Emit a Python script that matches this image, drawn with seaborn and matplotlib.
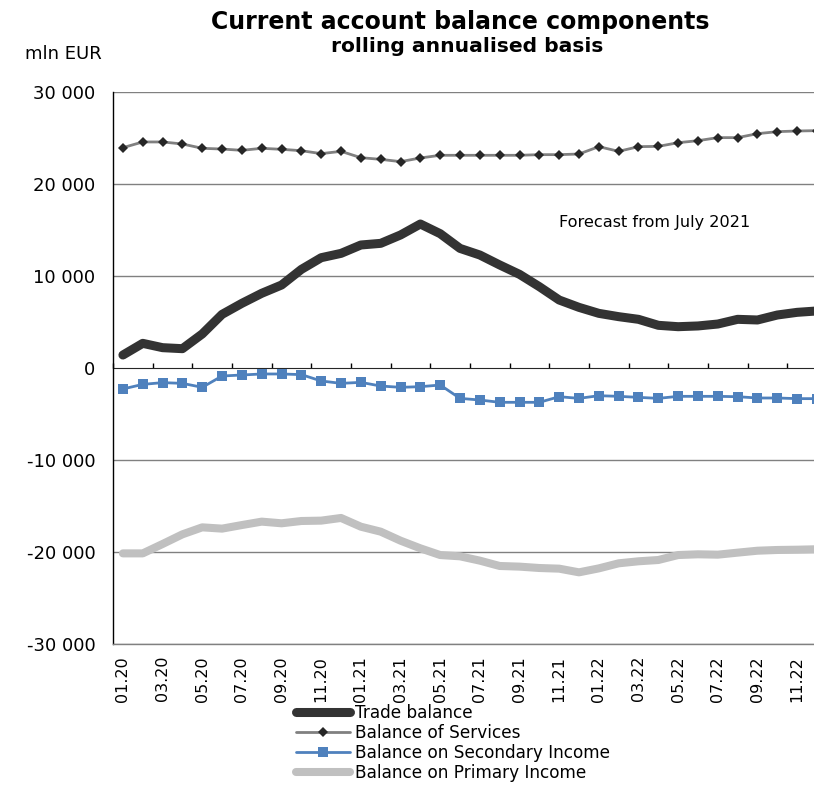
import numpy as np
import pandas as pd
import matplotlib
matplotlib.use("Agg")
import matplotlib.pyplot as plt
import seaborn as sns

months = [f"{m:02d}.{y}" for y in (20, 21, 22) for m in range(1, 13)]

trade_balance = [1410, 2680, 2210, 2100, 3700, 5830, 7030, 8120, 9020, 10720,
                 11990, 12460, 13370, 13550, 14460, 15650, 14600, 13000, 12280, 11200,
                 10180, 8840, 7390, 6590, 5940, 5580, 5290, 4640, 4490, 4570,
                 4780, 5290, 5220, 5760, 6050, 6200]
services = [23950, 24570, 24570, 24350, 23880, 23800, 23660, 23880, 23770, 23620,
            23300, 23550, 22860, 22680, 22430, 22830, 23120, 23120, 23120, 23120,
            23120, 23190, 23190, 23260, 24060, 23550, 24060, 24090, 24490, 24710,
            25040, 25040, 25470, 25690, 25760, 25800]
secondary_income = [-2280, -1780, -1590, -1670, -2100, -870, -760, -650, -650, -720,
                    -1410, -1670, -1560, -1960, -2100, -2030, -1850, -3300, -3480, -3730,
                    -3730, -3730, -3120, -3300, -3010, -3080, -3190, -3300, -3080, -3080,
                    -3080, -3120, -3260, -3260, -3330, -3330]
primary_income = [-20150, -20150, -19130, -18080, -17320, -17460, -17070, -16700, -16880, -16630,
                  -16590, -16300, -17250, -17790, -18770, -19600, -20330, -20470, -20940, -21520,
                  -21590, -21740, -21810, -22210, -21780, -21230, -21010, -20870, -20330, -20250,
                  -20290, -20070, -19860, -19780, -19750, -19700]

y_ticks = [30000, 20000, 10000, 0, -10000, -20000, -30000]
y_tick_labels = ["30 000", "20 000", "10 000", "0", "-10 000", "-20 000", "-30 000"]

sns.set_style("white")
plt.rcParams["font.family"] = ["DejaVu Sans"]
plt.rcParams["text.color"] = "#000000"

W, H = 814, 786
fig = plt.figure(figsize=(W / 100, H / 100), dpi=100)

# plot area: category -0.5 sits on the left spine, the right end runs past the canvas
step = 19.83
left_px, top_px, bottom_px = 113, 92, 644
right_px = left_px + 36 * step
ax = fig.add_axes([left_px / W, 1 - bottom_px / H, (right_px - left_px) / W, (bottom_px - top_px) / H])

x = np.arange(len(months))
df = pd.DataFrame({
    "x": x,
    "Trade balance": trade_balance,
    "Balance of Services": services,
    "Balance on Secondary Income": secondary_income,
    "Balance on Primary Income": primary_income,
})

grid_col = "#808080"
for v in y_ticks:
    if v == 0:
        continue
    ax.axhline(v, color=grid_col, lw=1.0, zorder=0)

sns.lineplot(data=df, x="x", y="Balance on Primary Income", ax=ax, color="#c0c0c0",
             lw=5.8, solid_capstyle="round", solid_joinstyle="round",
             label="Balance on Primary Income", zorder=2)
sns.lineplot(data=df, x="x", y="Balance on Secondary Income", ax=ax, color="#4f81bd",
             lw=2.0, marker="s", markersize=6.8, markeredgewidth=0,
             label="Balance on Secondary Income", zorder=3)
sns.lineplot(data=df, x="x", y="Balance of Services", ax=ax, color="#808080",
             lw=2.0, marker="D", markersize=5.4, markerfacecolor="#262626",
             markeredgecolor="#262626", markeredgewidth=0,
             label="Balance of Services", zorder=3)
sns.lineplot(data=df, x="x", y="Trade balance", ax=ax, color="#333333",
             lw=6.5, solid_capstyle="round", solid_joinstyle="round",
             label="Trade balance", zorder=4)

ax.set_xlim(-0.5, 35.5)
ax.set_ylim(-30000, 30000)
ax.set_xlabel("")
ax.set_ylabel("")

ax.set_yticks(y_ticks)
ax.set_yticklabels(y_tick_labels, fontsize=13, color="#000000")
ax.tick_params(axis="y", direction="out", length=3.6, width=1, color="#000000", pad=9)

ax.set_xticks(x[::2])
ax.set_xticklabels(months[::2], rotation=90, fontsize=11.5, color="#000000")
ax.tick_params(axis="x", length=0, pad=8.6)

for side in ("top", "right"):
    ax.spines[side].set_visible(False)
ax.spines["left"].set_color("#000000")
ax.spines["left"].set_linewidth(1.0)
ax.spines["bottom"].set_color(grid_col)
ax.spines["bottom"].set_linewidth(1.0)

# category axis crossing at zero, with tick marks between every second month
zero_axis = ax.secondary_xaxis(0.5)
zero_axis.set_xticks(np.arange(-0.5, 36, 2))
zero_axis.set_xticklabels([])
zero_axis.tick_params(direction="out", length=3.8, width=1, color="#000000")
zero_axis.spines["bottom"].set_color("#000000")
zero_axis.spines["bottom"].set_linewidth(1.0)

fig.text(559 / W, 1 - 223 / H, "Forecast from July 2021",
         fontsize=11.6, va="center", ha="left", color="#000000")

fig.text(460 / W, 1 - 22 / H, "Current account balance components", ha="center", va="center",
         fontsize=17, fontweight="bold", color="#000000")
fig.text(467 / W, 1 - 47 / H, "rolling annualised basis", ha="center", va="center",
         fontsize=14.6, fontweight="bold", color="#000000")
fig.text(25 / W, 1 - 54 / H, "mln EUR", ha="left", va="center", fontsize=13, color="#000000")

handles, labels = ax.get_legend_handles_labels()
order = ["Trade balance", "Balance of Services", "Balance on Secondary Income", "Balance on Primary Income"]
hmap = dict(zip(labels, handles))
ax.get_legend().remove()
leg = fig.legend([hmap[k] for k in order], order, loc="upper left",
                 bbox_to_anchor=(296 / W, 1 - 704 / H), frameon=False, fontsize=12.2,
                 handlelength=3.2, handletextpad=0.26, labelspacing=0.12,
                 borderpad=0, borderaxespad=0)
for t in leg.get_texts():
    t.set_color("#000000")

fig.savefig("out.png", dpi=100)
